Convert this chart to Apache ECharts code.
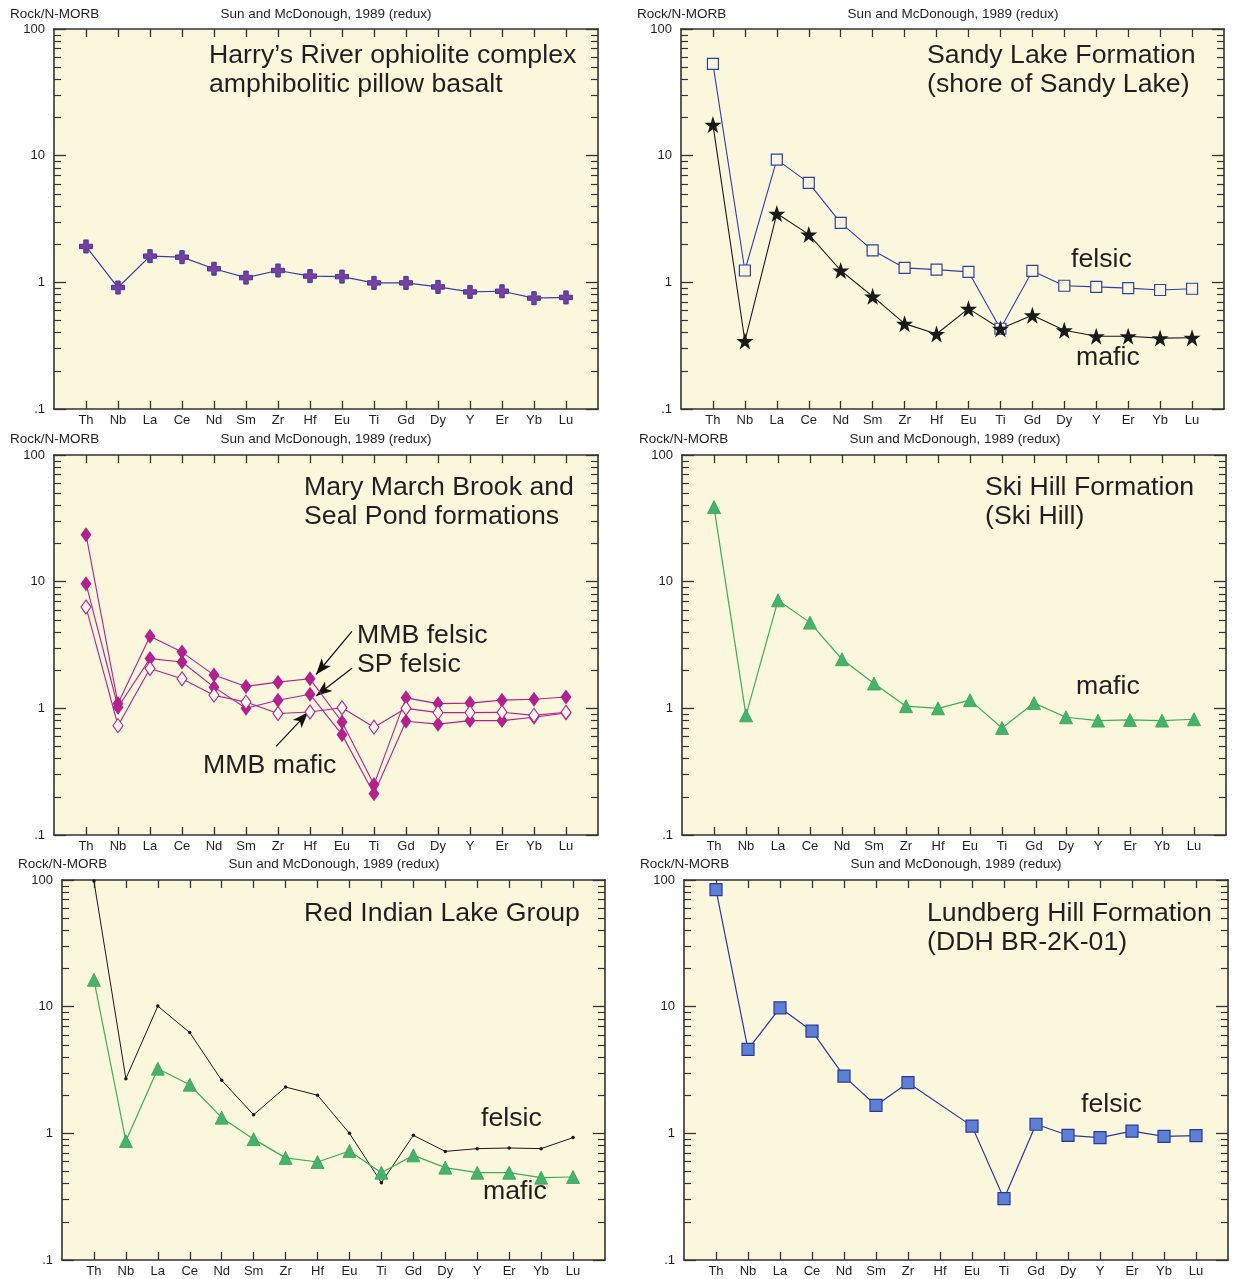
<!DOCTYPE html>
<html><head><meta charset="utf-8">
<script src="https://cdn.jsdelivr.net/npm/echarts@6/dist/echarts.min.js"></script>
<style>html,body{margin:0;padding:0;background:#fff}#c{width:1233px;height:1279px}</style>
</head><body><div id="c"></div>
<script>
// ---------- data ----------
const elements = ['Th','Nb','La','Ce','Nd','Sm','Zr','Hf','Eu','Ti','Gd','Dy','Y','Er','Yb','Lu'];
const yTickValues = [0.1, 1, 10, 100];
const yTickLabels = ['.1', '1', '10', '100'];
const yMinorValues = [0.2,0.3,0.4,0.5,0.6,0.7,0.8,0.9, 2,3,4,5,6,7,8,9, 20,30,40,50,60,70,80,90];

const harrysRiver     = [1.92,0.91,1.61,1.58,1.28,1.09,1.24,1.12,1.11,0.99,0.99,0.92,0.84,0.85,0.75,0.76];
const sandyFelsic     = [53,1.24,9.3,6.1,2.95,1.79,1.30,1.26,1.21,0.43,1.23,0.94,0.92,0.90,0.87,0.89];
const sandyMafic      = [17.6,0.344,3.49,2.39,1.24,0.775,0.472,0.391,0.62,0.43,0.55,0.418,0.375,0.375,0.363,0.365];
const mmbFelsic       = [23.5,1.09,3.7,2.78,1.83,1.49,1.61,1.71,0.78,0.25,1.21,1.09,1.10,1.16,1.18,1.23];
const spFelsic        = [9.65,1.02,2.47,2.32,1.47,1.0,1.16,1.29,0.62,0.212,0.79,0.75,0.80,0.80,0.85,0.92];
const mmbMafic        = [6.3,0.73,2.06,1.71,1.27,1.12,0.91,0.935,1.01,0.71,1.0,0.925,0.925,0.93,0.88,0.93];
const skiHillMafic    = [38.8,0.88,7.12,4.75,2.44,1.57,1.04,1.0,1.16,0.70,1.10,0.85,0.80,0.81,0.80,0.82];
const redIndianFelsic = [98,2.70,10.1,6.24,2.62,1.40,2.32,2.0,1.0,0.408,0.965,0.72,0.757,0.766,0.757,0.925];
const redIndianMafic  = [16.3,0.87,3.24,2.42,1.33,0.90,0.64,0.594,0.726,0.489,0.67,0.536,0.489,0.489,0.447,0.452];
const lundbergFelsic  = [84,4.6,9.8,6.42,2.83,1.66,2.51,null,1.14,0.305,1.18,0.965,0.925,1.04,0.946,0.96];

const headerLeft = 'Rock/N-MORB';
const headerRight = 'Sun and McDonough, 1989 (redux)';

// ---------- layout / style ----------
const FONT = "'Liberation Sans', Arial, Helvetica, sans-serif";
const INK = '#231f20';
const AX = '#333333';
const BG = '#fbf7dd';

const grids = [
  {left:54,  top:29,  width:544, height:380},
  {left:681, top:29,  width:543, height:380},
  {left:54,  top:455, width:544, height:380},
  {left:682, top:455, width:544, height:380},
  {left:62,  top:880, width:543, height:380},
  {left:684, top:880, width:544, height:380}
];
const xTicks = elements.map((e,i)=>i+1);

const xAxis = [], yAxis = [];
grids.forEach((g,i)=>{
  const lineS = {show:true, onZero:false, lineStyle:{color:AX, width:1.6}};
  const baseX = {gridIndex:i, type:'value', min:0, max:17, splitLine:{show:false},
    axisLine:lineS,
    axisTick:{show:true, inside:true, length:8, customValues:xTicks, lineStyle:{color:AX, width:1.3}}};
  xAxis.push(Object.assign({}, baseX, {position:'bottom',
    axisLabel:{show:true, customValues:xTicks, formatter:v=>elements[Math.round(v)-1]||'',
      margin:5, fontSize:13, color:INK, fontFamily:FONT}}));
  xAxis.push(Object.assign({}, baseX, {position:'top', axisLabel:{show:false}}));
  ['left','right'].forEach(pos=>{
    yAxis.push({gridIndex:i, type:'log', logBase:10, min:0.1, max:100, position:pos,
      splitLine:{show:false}, axisLine:lineS,
      axisTick:{show:true, inside:true, length:12, customValues:yTickValues, lineStyle:{color:AX, width:1.3}},
      axisLabel:{show:pos==='left', customValues:yTickValues,
        formatter:v=>yTickLabels[Math.round(Math.log10(v))+1],
        margin:9, fontSize:13, color:INK, fontFamily:FONT}});
  });
  ['left','right'].forEach(pos=>{
    yAxis.push({gridIndex:i, type:'log', logBase:10, min:0.1, max:100, position:pos,
      splitLine:{show:false}, axisLine:{show:false, onZero:false},
      axisTick:{show:true, inside:true, length:7, customValues:yMinorValues, lineStyle:{color:AX, width:1.2}},
      axisLabel:{show:false}});
  });
});

const pts = arr => arr.map((v,i)=>[i+1, v]);
const CROSS = 'path://M3.3,0H6.7V3.3H10V6.7H6.7V10H3.3V6.7H0V3.3H3.3Z';
const STAR = 'path://M50,0L61.8,35.1L97.6,35.1L68.8,56.7L79.4,91L50,70L20.6,91L31.2,56.7L2.4,35.1L38.2,35.1Z';

function line(gi, data, o){
  return Object.assign({type:'line', xAxisIndex:2*gi, yAxisIndex:4*gi, data:pts(data),
    connectNulls:true, silent:true, animation:false, z:5}, o);
}
const MAG = '#b3218e';
const GREEN = '#3aae5c';

const series = [
  line(0, harrysRiver, {symbol:CROSS, symbolSize:13, lineStyle:{color:'#3c3ca6', width:1.2},
    itemStyle:{color:'#7a3f9e', borderColor:'#3a3aa4', borderWidth:1}}),
  line(1, sandyFelsic, {symbol:'rect', symbolSize:11, lineStyle:{color:'#2f3fac', width:1.1},
    itemStyle:{color:BG, borderColor:'#2f3fac', borderWidth:1.2}}),
  line(1, sandyMafic, {symbol:STAR, symbolSize:17, lineStyle:{color:'#1a1a1a', width:1.1},
    itemStyle:{color:'#1a1a1a'}}),
  line(2, mmbFelsic, {symbol:'diamond', symbolSize:[11,15], lineStyle:{color:MAG, width:1.1},
    itemStyle:{color:MAG}}),
  line(2, spFelsic, {symbol:'diamond', symbolSize:[11,15], lineStyle:{color:MAG, width:1.1},
    itemStyle:{color:MAG}}),
  line(2, mmbMafic, {symbol:'diamond', symbolSize:[10,14], lineStyle:{color:MAG, width:1.1},
    itemStyle:{color:'#fdfaec', borderColor:MAG, borderWidth:1.1},
    markLine:{silent:true, animation:false, symbol:['none','arrow'], symbolSize:[9,16],
      lineStyle:{color:'#111', width:1.2, type:'solid'}, label:{show:false},
      data:[
        [{coord:[9.31,4.05]},{coord:[8.19,1.85]}],
        [{coord:[9.31,2.07]},{coord:[8.19,1.25]}],
        [{coord:[6.94,0.50]},{coord:[7.94,0.93]}]
      ]}}),
  line(3, skiHillMafic, {symbol:'triangle', symbolSize:13, lineStyle:{color:GREEN, width:1.2},
    itemStyle:{color:'#45b46a', borderColor:'#36a158', borderWidth:0.8}}),
  line(4, redIndianFelsic, {symbol:'circle', symbolSize:3.5, lineStyle:{color:'#1a1a1a', width:1},
    itemStyle:{color:'#1a1a1a'}}),
  line(4, redIndianMafic, {symbol:'triangle', symbolSize:13, lineStyle:{color:GREEN, width:1.2},
    itemStyle:{color:'#45b46a', borderColor:'#36a158', borderWidth:0.8}}),
  line(5, lundbergFelsic, {symbol:'rect', symbolSize:12, lineStyle:{color:'#2a389c', width:1.2},
    itemStyle:{color:'#5b80d4', borderColor:'#2a389c', borderWidth:1.2}})
];

// ---------- text ----------
function txt(t, x, y, size, align){
  return {type:'text', z:100, style:{text:t, x:x, y:y, font:size+'px '+FONT, fill:INK,
    textAlign:align||'left', textVerticalAlign:'middle'}};
}
const headers = [
  [10,326,14],[637,953,14],[10,326,439],[639,955,439],[18,334,864],[640,956,864]
];
const graphic = [];
headers.forEach(h=>{
  graphic.push(txt(headerLeft, h[0], h[2], 13.5));
  graphic.push(txt(headerRight, h[1], h[2], 13.5, 'center'));
});
const T = 26.7;
[
  ["Harry\u2019s River ophiolite complex", 209, 56], ["amphibolitic pillow basalt", 209, 85],
  ["Sandy Lake Formation", 927, 56], ["(shore of Sandy Lake)", 927, 85],
  ["Mary March Brook and", 304, 488], ["Seal Pond formations", 304, 517],
  ["Ski Hill Formation", 985, 488], ["(Ski Hill)", 985, 517],
  ["Red Indian Lake Group", 304, 914],
  ["Lundberg Hill Formation", 927, 914], ["(DDH BR-2K-01)", 927, 943],
  ["felsic", 1071, 260], ["mafic", 1076, 358],
  ["MMB felsic", 357, 636], ["SP felsic", 357, 665], ["MMB mafic", 203, 766],
  ["mafic", 1076, 687],
  ["felsic", 481, 1119], ["mafic", 483, 1192],
  ["felsic", 1081, 1105]
].forEach(a=>graphic.push(txt(a[0], a[1], a[2], T)));

const chart = echarts.init(document.getElementById('c'), null, {renderer:'canvas'});
chart.setOption({
  animation:false,
  backgroundColor:'#ffffff',
  grid: grids.map(g=>Object.assign({show:true, backgroundColor:BG, borderWidth:0, containLabel:false}, g)),
  xAxis, yAxis, series, graphic
});
</script></body></html>
